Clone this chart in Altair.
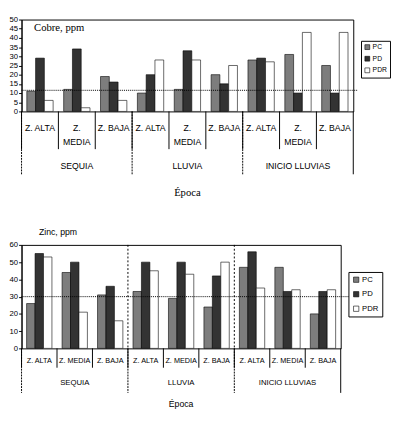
import altair as alt
import pandas as pd

epocas = ["SEQUIA", "LLUVIA", "INICIO LLUVIAS"]
zonas = ["Z. ALTA", "Z. MEDIA", "Z. BAJA"]
series = ["PC", "PD", "PDR"]

cobre_pc = [11, 12, 19, 10, 12, 20, 28, 31, 25]
cobre_pd = [29, 34, 16, 20, 33, 15, 29, 10, 10]
cobre_pdr = [6, 2, 6, 28, 28, 25, 27, 43, 43]
cobre_ref = 11.5

zinc_pc = [26, 44, 31, 33, 29, 24, 47, 47, 20]
zinc_pd = [55, 50, 36, 50, 50, 42, 56, 33, 33]
zinc_pdr = [53, 21, 16, 45, 43, 50, 35, 34, 34]
zinc_ref = 30

colors = ["#7d7d7d", "#333333", "#ffffff"]

cats = [f"{e}|{z}" for e in epocas for z in zonas]


def bars_df(pc, pd_, pdr):
    rows = []
    for i, c in enumerate(cats):
        for s, vals in zip(series, (pc, pd_, pdr)):
            rows.append({"cat": c, "serie": s, "value": vals[i]})
    return pd.DataFrame(rows)


def xenc(**kw):
    return alt.X("cat:N", sort=cats, scale=alt.Scale(paddingInner=0, paddingOuter=0), axis=None, **kw)


def panel(pc, pd_, pdr, ref, ymax, ystep, W, H, cfg):
    df = bars_df(pc, pd_, pdr)
    yaxis = alt.Axis(values=list(range(0, ymax + 1, ystep)), title=None, grid=False,
                     labelFontSize=8, labelFont="Liberation Sans", tickSize=3,
                     labelPadding=1, domainColor="black", tickColor="black",
                     labelColor="black")
    yscale = alt.Scale(domain=[0, ymax], nice=False)
    bars = alt.Chart(df).mark_bar(stroke="black", strokeWidth=0.6).encode(
        x=xenc(),
        xOffset=alt.XOffset("serie:N", sort=series,
                            scale=alt.Scale(paddingInner=0, paddingOuter=0.6)),
        y=alt.Y("value:Q", scale=yscale, axis=yaxis),
        color=alt.Color("serie:N", sort=series,
                        scale=alt.Scale(domain=series, range=colors),
                        legend=alt.Legend(title=None, orient="none",
                                          legendX=cfg["legX"], legendY=cfg["legY"],
                                          symbolType="square", symbolSize=cfg["symSize"],
                                          symbolStrokeColor="black", symbolStrokeWidth=0.6,
                                          labelFontSize=cfg["legFont"], labelFont="Liberation Sans",
                                          labelColor="black",
                                          rowPadding=cfg["rowPad"], padding=cfg["legPad"],
                                          strokeColor="black", fillColor="white",
                                          labelOffset=2)),
    )

    refrule = alt.Chart(pd.DataFrame({"value": [ref]})).mark_rule(
        color="black", strokeWidth=1, strokeDash=[1, 1]).encode(
        y=alt.Y("value:Q", scale=yscale, axis=yaxis), x=alt.value(0), x2=alt.value(W + cfg["refExt"]))

    zl = pd.DataFrame({"cat": cats,
                       "label": [cfg["media"] if z == "Z. MEDIA" else z for e in epocas for z in zonas]})
    zlabels = alt.Chart(zl).mark_text(fontSize=cfg["zFont"], font="Liberation Sans", color="black",
                                      baseline="middle", lineBreak="\n", lineHeight=15).encode(
        x=xenc(), y=alt.value(H + cfg["zY"]), text="label:N")

    zsep = alt.Chart(pd.DataFrame({"cat": cats})).mark_rule(color="black", strokeWidth=1).encode(
        x=xenc(bandPosition=0), y=alt.value(H), y2=alt.value(H + cfg["zSep"]))
    zend = alt.Chart(pd.DataFrame({"cat": [cats[0]]})).mark_rule(color="black", strokeWidth=1).encode(
        x=alt.value(W), y=alt.value(H), y2=alt.value(H + cfg["eSep"]))

    gstart = [cats[0], cats[3], cats[6]]
    esep = alt.Chart(pd.DataFrame({"cat": gstart})).mark_rule(
        color="black", strokeWidth=1, strokeDash=[2, 1]).encode(
        x=xenc(bandPosition=0), y=alt.value(H), y2=alt.value(H + cfg["eSep"]))

    el = pd.DataFrame({"cat": [cats[1], cats[4], cats[7]], "label": epocas})
    elabels = alt.Chart(el).mark_text(fontSize=cfg["eFont"], font="Liberation Sans", color="black",
                                      baseline="middle").encode(
        x=xenc(), y=alt.value(H + cfg["eY"]), text="label:N")

    xtitle = alt.Chart(pd.DataFrame({"t": ["Época"]})).mark_text(
        fontSize=cfg["tFont"], font=cfg["tFontFam"], color="black", baseline="middle").encode(
        x=alt.value(W / 2), y=alt.value(H + cfg["tY"]), text="t:N")

    ctitle = alt.Chart(pd.DataFrame({"t": [cfg["title"]]})).mark_text(
        fontSize=cfg["cFont"], font=cfg["cFontFam"], color="black", baseline="middle",
        align="left").encode(
        x=alt.value(cfg["cX"]), y=alt.value(cfg["cY"]), text="t:N")

    layers = [bars, refrule, zsep, zend, esep, zlabels, elabels, xtitle, ctitle]
    if cfg.get("inner"):
        inner = alt.Chart(pd.DataFrame({"cat": [cats[3], cats[6]]})).mark_rule(
            color="black", strokeWidth=1, strokeDash=[2, 2]).encode(
            x=xenc(bandPosition=0), y=alt.value(0), y2=alt.value(H))
        layers.insert(1, inner)
    return alt.layer(*layers).properties(width=W, height=H)


SERIF = "Liberation Serif, DejaVu Serif, serif"
top_cfg = dict(legX=351, legY=22, symSize=25, legFont=7, rowPad=3, legPad=3, refExt=4,
               media="Z.\nMEDIA", zFont=9, zY=17, zSep=39, eSep=65, eFont=9, eY=57,
               tFont=11, tFontFam=SERIF, tY=84, title="Cobre, ppm",
               cFont=11, cFontFam=SERIF, cX=13, cY=9)
bot_cfg = dict(legX=338, legY=28, symSize=30, legFont=8, rowPad=7, legPad=4, refExt=10,
               media="Z. MEDIA", zFont=7.5, zY=13, zSep=20, eSep=46, eFont=8, eY=36,
               tFont=9, tFontFam="Liberation Sans", tY=58, title="Zinc, ppm",
               cFont=9, cFontFam="Liberation Sans", cX=18, cY=-13, inner=True)

top = panel(cobre_pc, cobre_pd, cobre_pdr, cobre_ref, 50, 5, 343, 95, top_cfg)
bottom = panel(zinc_pc, zinc_pd, zinc_pdr, zinc_ref, 60, 10, 330, 107, bot_cfg)

chart = alt.vconcat(top, bottom, spacing=30).resolve_scale(
    x="independent", y="independent", color="independent", xOffset="independent"
).configure_view(stroke="black", strokeWidth=1).properties(padding=0)

chart.save("out.html", embed_options={"renderer": "svg", "actions": False})
